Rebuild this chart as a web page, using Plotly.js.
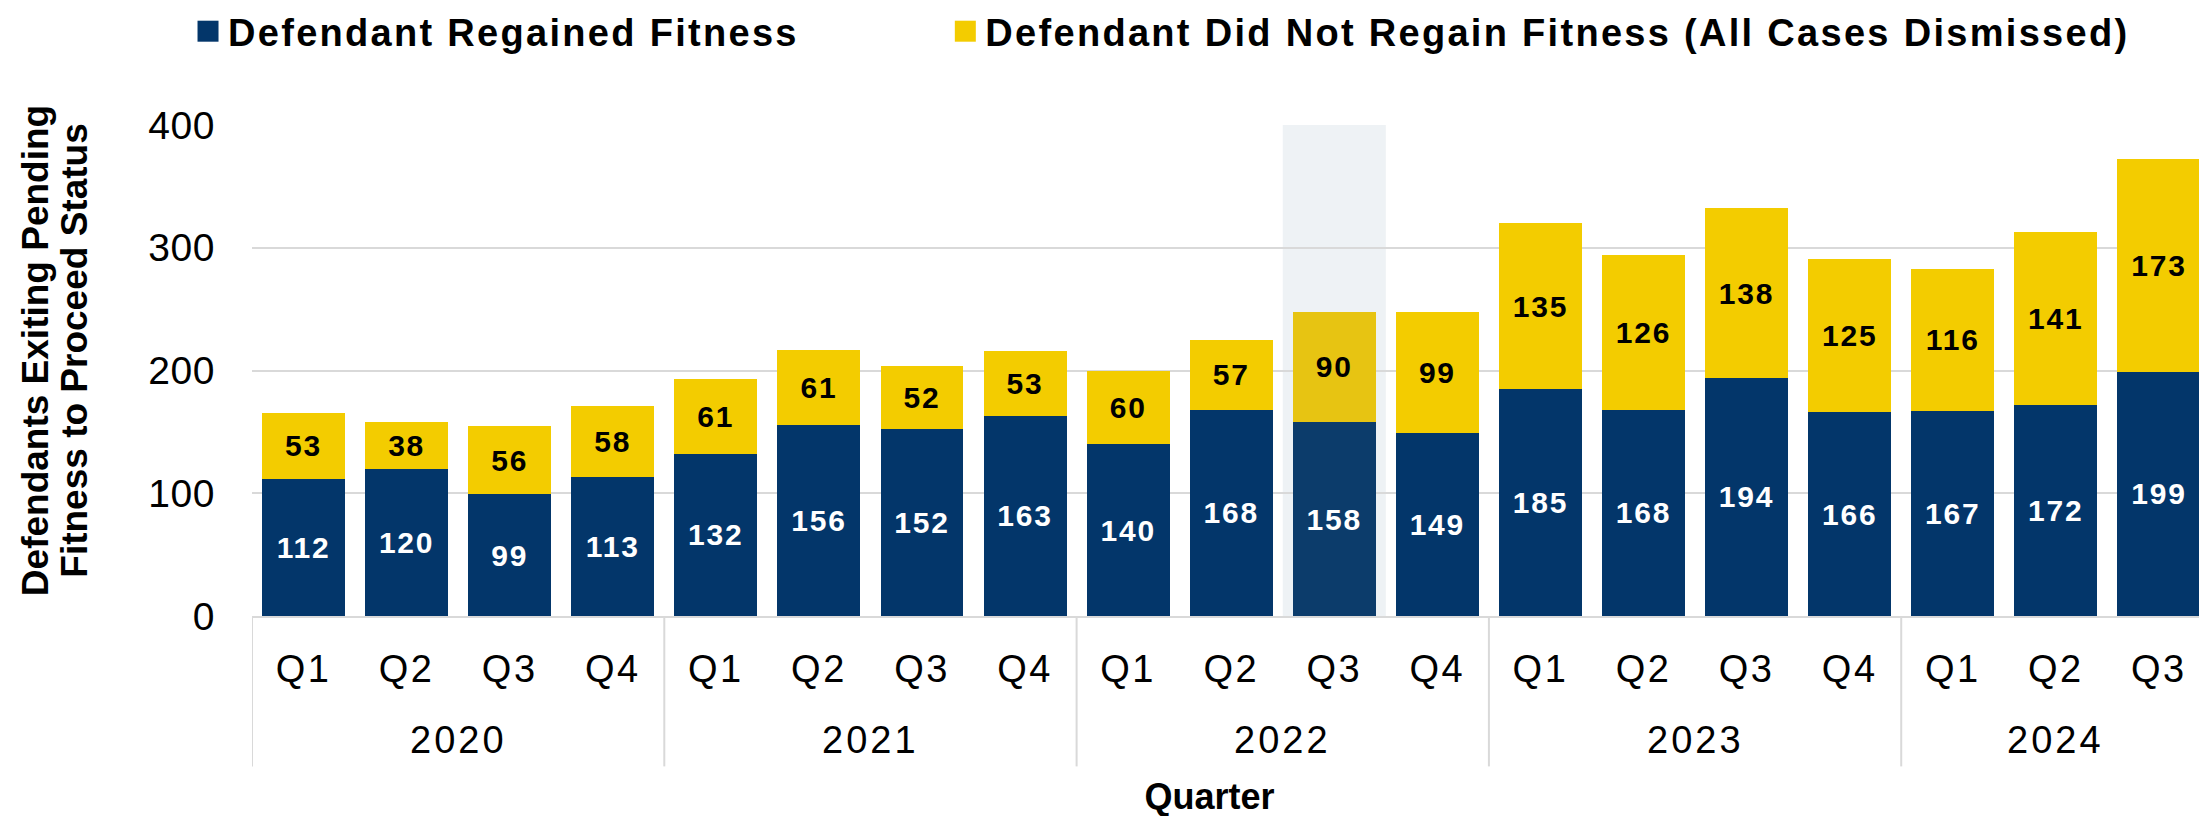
<!DOCTYPE html>
<html>
<head>
<meta charset="utf-8">
<script src="https://cdn.plot.ly/plotly-3.0.1.min.js"></script>
<style>
  html, body { margin: 0; padding: 0; background: #ffffff; overflow: hidden; }
  #chart { width: 2199px; height: 816px; }
  /* the reference text is set slightly wider than Arial/Liberation */
  #chart .xtick text { letter-spacing: 2.5px; }
  #chart .annotation-text { letter-spacing: 3px; }
  #chart .bartext { letter-spacing: 1.8px; }
  #chart .ytick text { letter-spacing: 0.6px; }
</style>
</head>
<body>
<div id="chart"></div>
<script>
// ---- Data ----
const years    = ['2020','2020','2020','2020','2021','2021','2021','2021','2022','2022','2022','2022','2023','2023','2023','2023','2024','2024','2024'];
const quarters = ['Q1','Q2','Q3','Q4','Q1','Q2','Q3','Q4','Q1','Q2','Q3','Q4','Q1','Q2','Q3','Q4','Q1','Q2','Q3'];
const regained    = [112,120,99,113,132,156,152,163,140,168,158,149,185,168,194,166,167,172,199];
const notRegained = [53,38,56,58,61,61,52,53,60,57,90,99,135,126,138,125,116,141,173];
const seriesNames = ['Defendant Regained Fitness', 'Defendant Did Not Regain Fitness (All Cases Dismissed)'];
const highlightIndex = 10; // 2022 Q3
const yTitle = 'Defendants Exiting Pending<br>Fitness to Proceed Status';
const xTitle = 'Quarter';

// ---- Styling ----
const FONT = 'Liberation Sans, Arial, Helvetica, sans-serif';
const NAVY = '#03366A', NAVY_HL = '#0C3C6B';
const GOLD = '#F3CC00', GOLD_HL = '#E7C412';
const GRID = '#D9D9D9';

const L = 251.5, T = 123, B = 200, W = 2199, H = 816;
const plotW = W - L, plotH = H - T - B;

// category keys (year + quarter), shown with quarter tick text
const cats = years.map((y, i) => y + ' ' + quarters[i]);

const navyColors = regained.map((_, i) => i === highlightIndex ? NAVY_HL : NAVY);
const goldColors = notRegained.map((_, i) => i === highlightIndex ? GOLD_HL : GOLD);

const traces = [
  {
    type: 'bar', name: seriesNames[0], x: cats, y: regained, legend: 'legend',
    marker: { color: navyColors, line: { width: 0 } },
    text: regained.map(String), textposition: 'inside', insidetextanchor: 'middle',
    textangle: 0, constraintext: 'none',
    textfont: { family: FONT, size: 30, color: '#FFFFFF', weight: 'bold' },
    hoverinfo: 'skip'
  },
  {
    type: 'bar', name: seriesNames[1], x: cats, y: notRegained, legend: 'legend2',
    marker: { color: goldColors, line: { width: 0 } },
    text: notRegained.map(String), textposition: 'inside', insidetextanchor: 'middle',
    textangle: 0, constraintext: 'none',
    textfont: { family: FONT, size: 30, color: '#000000', weight: 'bold' },
    hoverinfo: 'skip'
  }
];

// year groups -> centred labels and divider lines (positions via the x axis scale)
const uniqueYears = [...new Set(years)];
const yearAnnotations = uniqueYears.map(yr => {
  const idx = years.map((y, i) => y === yr ? i : -1).filter(i => i >= 0);
  const mid = (idx[0] + idx[idx.length - 1]) / 2;
  return {
    xref: 'x', yref: 'paper', x: mid, y: (616 - 741) / plotH,
    text: yr, showarrow: false, xanchor: 'center', yanchor: 'middle',
    font: { family: FONT, size: 38, color: '#000000' }
  };
});
const boundaries = [];
uniqueYears.forEach(yr => { boundaries.push(years.indexOf(yr) - 0.5); });
boundaries.push(years.length - 0.5);
const dividerShapes = boundaries.map(b => ({
  type: 'line', layer: 'above', xref: 'x', yref: 'paper',
  x0: b, x1: b, y0: 0, y1: -(767 - 616) / plotH,
  line: { color: GRID, width: 2 }
}));

const legendCommon = {
  orientation: 'h', xref: 'paper', yref: 'paper', xanchor: 'left',
  y: 1 + (T - 29) / plotH, yanchor: 'middle',
  font: { family: FONT, size: 38, color: '#000000', weight: 'bold' },
  bgcolor: 'rgba(0,0,0,0)', borderwidth: 0
};

const layout = {
  width: W, height: H,
  margin: { l: L, r: 0, t: T, b: B, pad: 0 },
  paper_bgcolor: '#FFFFFF', plot_bgcolor: '#FFFFFF',
  barmode: 'stack', bargap: 0.195,
  font: { family: FONT, color: '#000000' },
  showlegend: true,
  legend: Object.assign({}, legendCommon, { x: (187.5 - L) / plotW }),
  legend2: Object.assign({}, legendCommon, { x: (945 - L) / plotW }),
  xaxis: {
    type: 'category',
    categoryorder: 'array', categoryarray: cats,
    range: [-0.5, 18.389], autorange: false,
    tickvals: cats, ticktext: quarters,
    showgrid: false,
    showline: true, linecolor: GRID, linewidth: 2,
    ticks: '', ticklabelstandoff: 18,
    tickfont: { family: FONT, size: 38, color: '#000000' },
    title: { text: xTitle, font: { family: FONT, size: 36, color: '#000000', weight: 'bold' }, standoff: 105 },
    automargin: false, fixedrange: true
  },
  yaxis: {
    range: [0, 400], autorange: false,
    tickvals: [0, 100, 200, 300, 400],
    showgrid: true, gridcolor: GRID, gridwidth: 2,
    zeroline: false, showline: false,
    ticks: '', ticklabelstandoff: 36,
    tickfont: { family: FONT, size: 39, color: '#000000' },
    title: { text: yTitle, font: { family: FONT, size: 37, color: '#000000', weight: 'bold' }, standoff: 41 },
    automargin: false, fixedrange: true
  },
  annotations: yearAnnotations,
  shapes: [
    {
      type: 'rect', layer: 'below',
      xref: 'x', yref: 'paper',
      x0: highlightIndex - 0.5, x1: highlightIndex + 0.5, y0: 0, y1: 1,
      fillcolor: '#EEF2F5', line: { width: 0 }
    }
  ].concat(dividerShapes)
};

function touchUp() {
  const root = document.getElementById('chart');
  // enlarge the legend colour swatches to match the reference (~21px squares)
  root.querySelectorAll('.legendpoints path').forEach(p => {
    p.setAttribute('d', 'M10.5,10.5H-10.5V-10.5H10.5Z');
  });
  // wider legend lettering as in the reference; drop legend clips so nothing is cut
  root.querySelectorAll('.infolayer text').forEach(t => {
    if (seriesNames.indexOf(t.textContent) >= 0) t.style.letterSpacing = '2.3px';
  });
  root.querySelectorAll('.infolayer [clip-path]').forEach(g => {
    if (/legend/i.test(g.getAttribute('clip-path'))) g.removeAttribute('clip-path');
  });
  root.querySelectorAll('.scrollbox').forEach(g => g.removeAttribute('clip-path'));
  // tighter line spacing and slight upward placement of the y-axis title, as in the reference
  const yt = root.querySelector('.g-ytitle text');
  if (yt && !yt.dataset.moved) {
    const lines = yt.querySelectorAll('tspan.line');
    if (lines.length > 1) lines[1].setAttribute('dy', '1.05em');
    yt.setAttribute('transform', 'translate(0,-20) ' + (yt.getAttribute('transform') || ''));
    yt.dataset.moved = '1';
  }
  const xt = root.querySelector('.g-xtitle text');
  if (xt && !xt.dataset.moved) {
    xt.setAttribute('transform', 'translate(-16,1) ' + (xt.getAttribute('transform') || ''));
    xt.dataset.moved = '1';
  }
}

Plotly.newPlot('chart', traces, layout, { displayModeBar: false, staticPlot: true }).then(() => {
  touchUp();
  requestAnimationFrame(touchUp);
  setTimeout(touchUp, 200);
});
</script>
</body>
</html>
